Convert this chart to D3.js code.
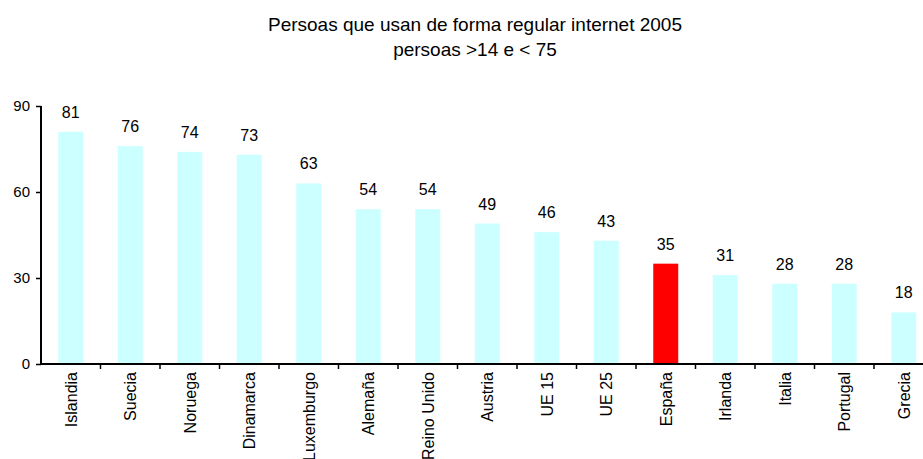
<!DOCTYPE html>
<html><head><meta charset="utf-8">
<script src="https://cdn.jsdelivr.net/npm/d3@7/dist/d3.min.js"></script>
<style>body{margin:0;background:#fff}svg{display:block;font-family:Arial,"Liberation Sans",sans-serif}</style>
</head><body><svg id="c" width="923" height="459"></svg>
<script>
const categories = ["Islandia","Suecia","Noruega","Dinamarca","Luxemburgo","Alemaña","Reino Unido","Austria","UE 15","UE 25","España","Irlanda","Italia","Portugal","Grecia"];
const values = [81,76,74,73,63,54,54,49,46,43,35,31,28,28,18];
const highlight = ["España"];
const yTicks = [0,30,60,90];
const titleLines = ["Persoas que usan de forma regular internet 2005","persoas >14 e < 75"];

const svg = d3.select("#c");
const x0 = 41, y0 = 364, yTop = 106, bandW = 59.5;
const x = d3.scaleBand().domain(categories).range([x0, x0 + bandW*categories.length]).paddingInner(0.58).paddingOuter(0.29);
const y = d3.scaleLinear().domain([0,90]).range([y0, yTop]);

svg.selectAll("text.title").data(titleLines).join("text")
  .attr("x", 475).attr("y", (d,i)=>31+i*25).attr("text-anchor","middle")
  .attr("font-size",19).attr("fill","#000").text(d=>d);

svg.selectAll("rect.bar").data(categories).join("rect")
  .attr("x", d=>x(d)).attr("width", x.bandwidth())
  .attr("y", (d,i)=>y(values[i])).attr("height",(d,i)=>y0-y(values[i]))
  .attr("fill", d=>highlight.includes(d)?"#FF0000":"#CCFFFF");

svg.selectAll("text.val").data(categories).join("text")
  .attr("x", d=>x(d)+x.bandwidth()/2).attr("y",(d,i)=>y(values[i])-14)
  .attr("text-anchor","middle").attr("font-size",16).text((d,i)=>values[i]);

// y axis
const yAxis = svg.append("g").attr("transform",`translate(${x0},0)`)
  .call(d3.axisLeft(y).tickValues(yTicks).tickSize(5).tickPadding(4));
yAxis.select(".domain").attr("stroke","#000").attr("stroke-width",2).attr("d",`M0,${y0}V${yTop}`);
yAxis.selectAll(".tick line").attr("stroke","#000").attr("stroke-width",1.5);
yAxis.selectAll(".tick text").attr("font-size",15).attr("font-family","Arial,'Liberation Sans',sans-serif").attr("fill","#000").attr("x",-11);

// x axis
const xg = svg.append("g").attr("transform",`translate(0,${y0})`);
xg.append("line").attr("x1",x0).attr("x2",923).attr("stroke","#000").attr("stroke-width",2);
const bounds = d3.range(categories.length).map(i=>x0+i*bandW + bandW);
xg.selectAll("line.t").data(bounds).join("line")
  .attr("x1",d=>d).attr("x2",d=>d).attr("y1",0).attr("y2",5).attr("stroke","#000").attr("stroke-width",1.5);
xg.selectAll("text.cat").data(categories).join("text")
  .attr("transform",d=>`translate(${x(d)+x.bandwidth()/2+6},8) rotate(-90)`)
  .attr("text-anchor","end").attr("font-size",16).text(d=>d);
</script></body></html>
